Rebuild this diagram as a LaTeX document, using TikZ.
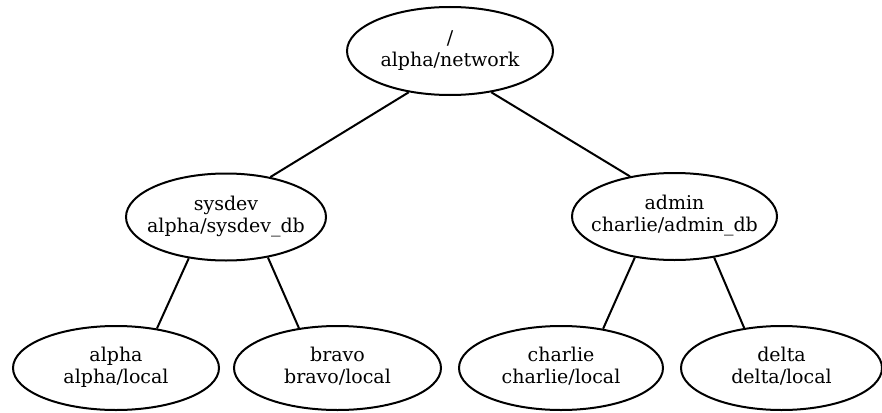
\documentclass[tikz,border=0pt]{standalone}
\usepackage{fontspec}
\setmainfont{DejaVu Serif}
\usetikzlibrary{shapes.geometric}
% two centred lines in a box of zero width, so the ellipse size comes from the
% minimum width/height alone
\newcommand\nslabel[2]{\makebox[0pt]{\begin{tabular}{@{}c@{}}#1\\#2\end{tabular}}}
\begin{document}
\begin{tikzpicture}[x=1pt,y=-1pt,
  treenode/.style={draw, line width=2pt, ellipse, inner sep=0pt,
    font=\fontsize{19}{22}\selectfont},
  link/.style={line width=2pt}]
\useasboundingbox (0,0) rectangle (882,412);

% namespace nodes
\node[treenode, minimum width=206, minimum height=88] (root)    at (450,51)      {\nslabel{/}{alpha/network}};
\node[treenode, minimum width=200, minimum height=87] (sysdev)  at (226,217)     {\nslabel{sysdev}{alpha/sysdev\_db}};
\node[treenode, minimum width=205, minimum height=87] (admin)   at (674.5,216.5) {\nslabel{admin}{charlie/admin\_db}};
\node[treenode, minimum width=206, minimum height=84] (alpha)   at (116,368)     {\nslabel{alpha}{alpha/local}};
\node[treenode, minimum width=207, minimum height=84] (bravo)   at (337.5,368)   {\nslabel{bravo}{bravo/local}};
\node[treenode, minimum width=204, minimum height=84] (charlie) at (561,368)     {\nslabel{charlie}{charlie/local}};
\node[treenode, minimum width=201, minimum height=84] (delta)   at (781.5,368)   {\nslabel{delta}{delta/local}};

% parent-child links
\draw[link] (root.225) -- (sysdev.42);
\draw[link] (root.315) -- (admin.138);
\draw[link] (sysdev.228) -- (alpha.44);
\draw[link] (sysdev.316) -- (bravo.134);
\draw[link] (admin.226) -- (charlie.43);
\draw[link] (admin.314) -- (delta.133);
\end{tikzpicture}
\end{document}
